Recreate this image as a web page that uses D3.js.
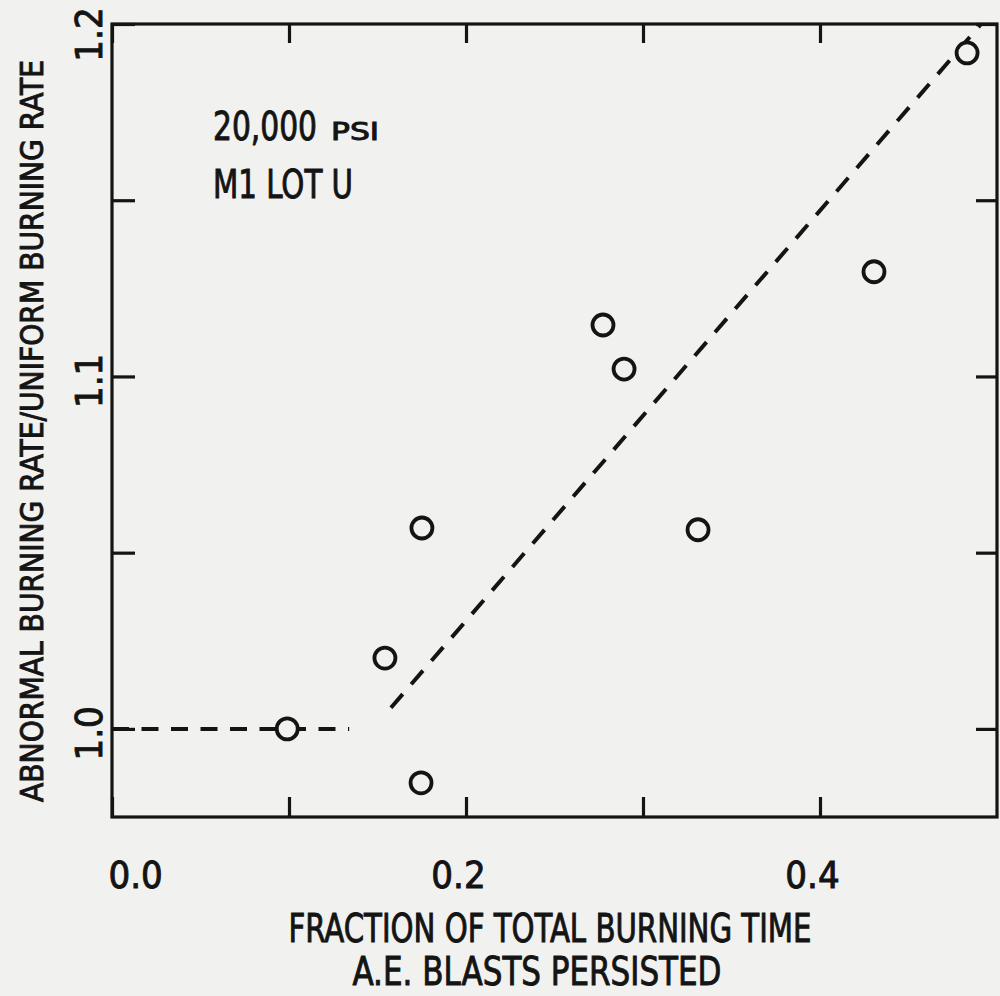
<!DOCTYPE html>
<html>
<head>
<meta charset="utf-8">
<script src="https://cdn.jsdelivr.net/npm/d3@7"></script>
<style>
  html, body { margin: 0; padding: 0; background: #f1f1ef; }
  svg { display: block; }
  .lbl { font-family: 'Liberation Sans Narrow', 'DejaVu Sans Condensed', 'Liberation Sans', sans-serif; fill: #141414; stroke: #141414; stroke-width: 0.9px; }
</style>
</head>
<body>
<div id="chart"></div>
<script>
// measured points (fraction of burning time vs. rate ratio)
var fractionTime = [0.099, 0.1746, 0.1542, 0.1751, 0.2774, 0.2893, 0.3311, 0.4305, 0.4831];
var rateRatio    = [1.000, 0.9847, 1.0201, 1.0570, 1.1146, 1.1021, 1.0565, 1.1297, 1.1918];

// the two dashed guide lines
var flatLineX = [0.0, 0.134],   flatLineY = [1.0, 1.0];
var fitLineX  = [0.1576, 0.491], fitLineY  = [1.006, 1.2];

// ticks and their labels
var xTicks = [0, 0.1, 0.2, 0.3, 0.4];
var xTickLabels = ["0.0", "", "0.2", "", "0.4"];
var yTicks = [1.0, 1.05, 1.1, 1.15, 1.2];
var yTickLabels = ["1.0", "", "1.1", "", "1.2"];

var xTitle1 = "FRACTION OF TOTAL BURNING TIME",
    xTitle2 = "A.E. BLASTS PERSISTED",
    yTitle = "ABNORMAL BURNING RATE/UNIFORM BURNING RATE";

(function() {
var width = 1000, height = 996,
    plotLeft = 112, plotRight = 997, plotTop = 24, plotBottom = 817,
    ink = "#141414";

var svg = d3.select("#chart").append("svg")
  .attr("width", width)
  .attr("height", height);

var x = d3.scaleLinear().domain([0, 0.5]).range([plotLeft, plotRight]);
var y = d3.scaleLinear().domain([0.975, 1.2]).range([plotBottom, plotTop]);

// frame
svg.append("rect")
  .attr("x", plotLeft).attr("y", plotTop)
  .attr("width", plotRight - plotLeft).attr("height", plotBottom - plotTop)
  .attr("fill", "none").attr("stroke", ink).attr("stroke-width", 3.2);

// bottom axis, ticks pointing in
var gx = svg.append("g")
  .attr("transform", "translate(0," + plotBottom + ")")
  .call(d3.axisBottom(x).tickValues(xTicks).tickSizeInner(-20).tickSizeOuter(0).tickPadding(0)
    .tickFormat(function(d, i) { return xTickLabels[i]; }));
// top axis
var gxt = svg.append("g")
  .attr("transform", "translate(0," + plotTop + ")")
  .call(d3.axisTop(x).tickValues(xTicks).tickSizeInner(-19).tickSizeOuter(0).tickFormat(""));
// left axis
var gy = svg.append("g")
  .attr("transform", "translate(" + plotLeft + ",0)")
  .call(d3.axisLeft(y).tickValues(yTicks).tickSizeInner(-23).tickSizeOuter(0)
    .tickFormat(function(d, i) { return yTickLabels[i]; }));
// right axis
var gyr = svg.append("g")
  .attr("transform", "translate(" + plotRight + ",0)")
  .call(d3.axisRight(y).tickValues(yTicks).tickSizeInner(-21).tickSizeOuter(0).tickFormat(""));

[gx, gxt, gy, gyr].forEach(function(g) {
  g.select(".domain").remove();
  g.selectAll(".tick line").attr("stroke", ink).attr("stroke-width", 3.2);
});

gx.selectAll(".tick text")
  .attr("class", "lbl")
  .attr("font-size", 38)
  .attr("fill", ink)
  .attr("dy", 0)
  .attr("y", 71)
  .attr("text-anchor", function(d, i) { return i === 0 ? "start" : "middle"; })
  .attr("x", function(d, i) { return i === 0 ? -4 : -8; });

gy.selectAll(".tick text")
  .attr("class", "lbl")
  .attr("font-size", 38)
  .attr("fill", ink)
  .attr("text-anchor", "middle")
  .attr("x", 0).attr("y", 0).attr("dy", 0)
  .attr("transform", function(d) { return "translate(-10," + (d === 1.2 ? 10 : 4) + ") rotate(-90)"; });

// dashed lines
var line = d3.line()
  .x(function(d) { return x(d[0]); })
  .y(function(d) { return y(d[1]); });

svg.append("path")
  .datum(d3.zip(flatLineX, flatLineY))
  .attr("d", line)
  .attr("fill", "none").attr("stroke", ink).attr("stroke-width", 4)
  .attr("stroke-dasharray", "17,12.5");

svg.append("path")
  .datum(d3.zip(fitLineX, fitLineY))
  .attr("d", line)
  .attr("fill", "none").attr("stroke", ink).attr("stroke-width", 4)
  .attr("stroke-dasharray", "18,13");

// open circle markers
svg.append("g").selectAll("circle")
  .data(d3.zip(fractionTime, rateRatio))
  .enter().append("circle")
  .attr("cx", function(d) { return x(d[0]); })
  .attr("cy", function(d) { return y(d[1]); })
  .attr("r", 10.5)
  .attr("fill", "#f1f1ef")
  .attr("stroke", ink)
  .attr("stroke-width", 3.8);

// annotation (one label, small-caps unit)
var note = svg.append("text").attr("class", "lbl").attr("x", 213).attr("y", 140).attr("font-size", 39);
note.append("tspan")
  .attr("textLength", 104).attr("lengthAdjust", "spacingAndGlyphs").text("20,000");
note.append("tspan").attr("x", 331).attr("font-size", 24)
  .attr("textLength", 48).attr("lengthAdjust", "spacingAndGlyphs").text("PSI");
svg.append("text").attr("class", "lbl").attr("x", 213).attr("y", 198).attr("font-size", 39)
  .attr("textLength", 140).attr("lengthAdjust", "spacingAndGlyphs").text("M1 LOT U");

// axis titles
svg.append("text").attr("class", "lbl")
  .attr("x", 550).attr("y", 942).attr("font-size", 39)
  .attr("text-anchor", "middle")
  .attr("textLength", 523).attr("lengthAdjust", "spacingAndGlyphs")
  .text(xTitle1);
svg.append("text").attr("class", "lbl")
  .attr("x", 537).attr("y", 985).attr("font-size", 39)
  .attr("text-anchor", "middle")
  .attr("textLength", 369).attr("lengthAdjust", "spacingAndGlyphs")
  .text(xTitle2);
svg.append("text").attr("class", "lbl")
  .attr("transform", "translate(43,431) rotate(-90)")
  .attr("font-size", 32)
  .attr("text-anchor", "middle")
  .attr("textLength", 742).attr("lengthAdjust", "spacingAndGlyphs")
  .text(yTitle);
})();
</script>
</body>
</html>
